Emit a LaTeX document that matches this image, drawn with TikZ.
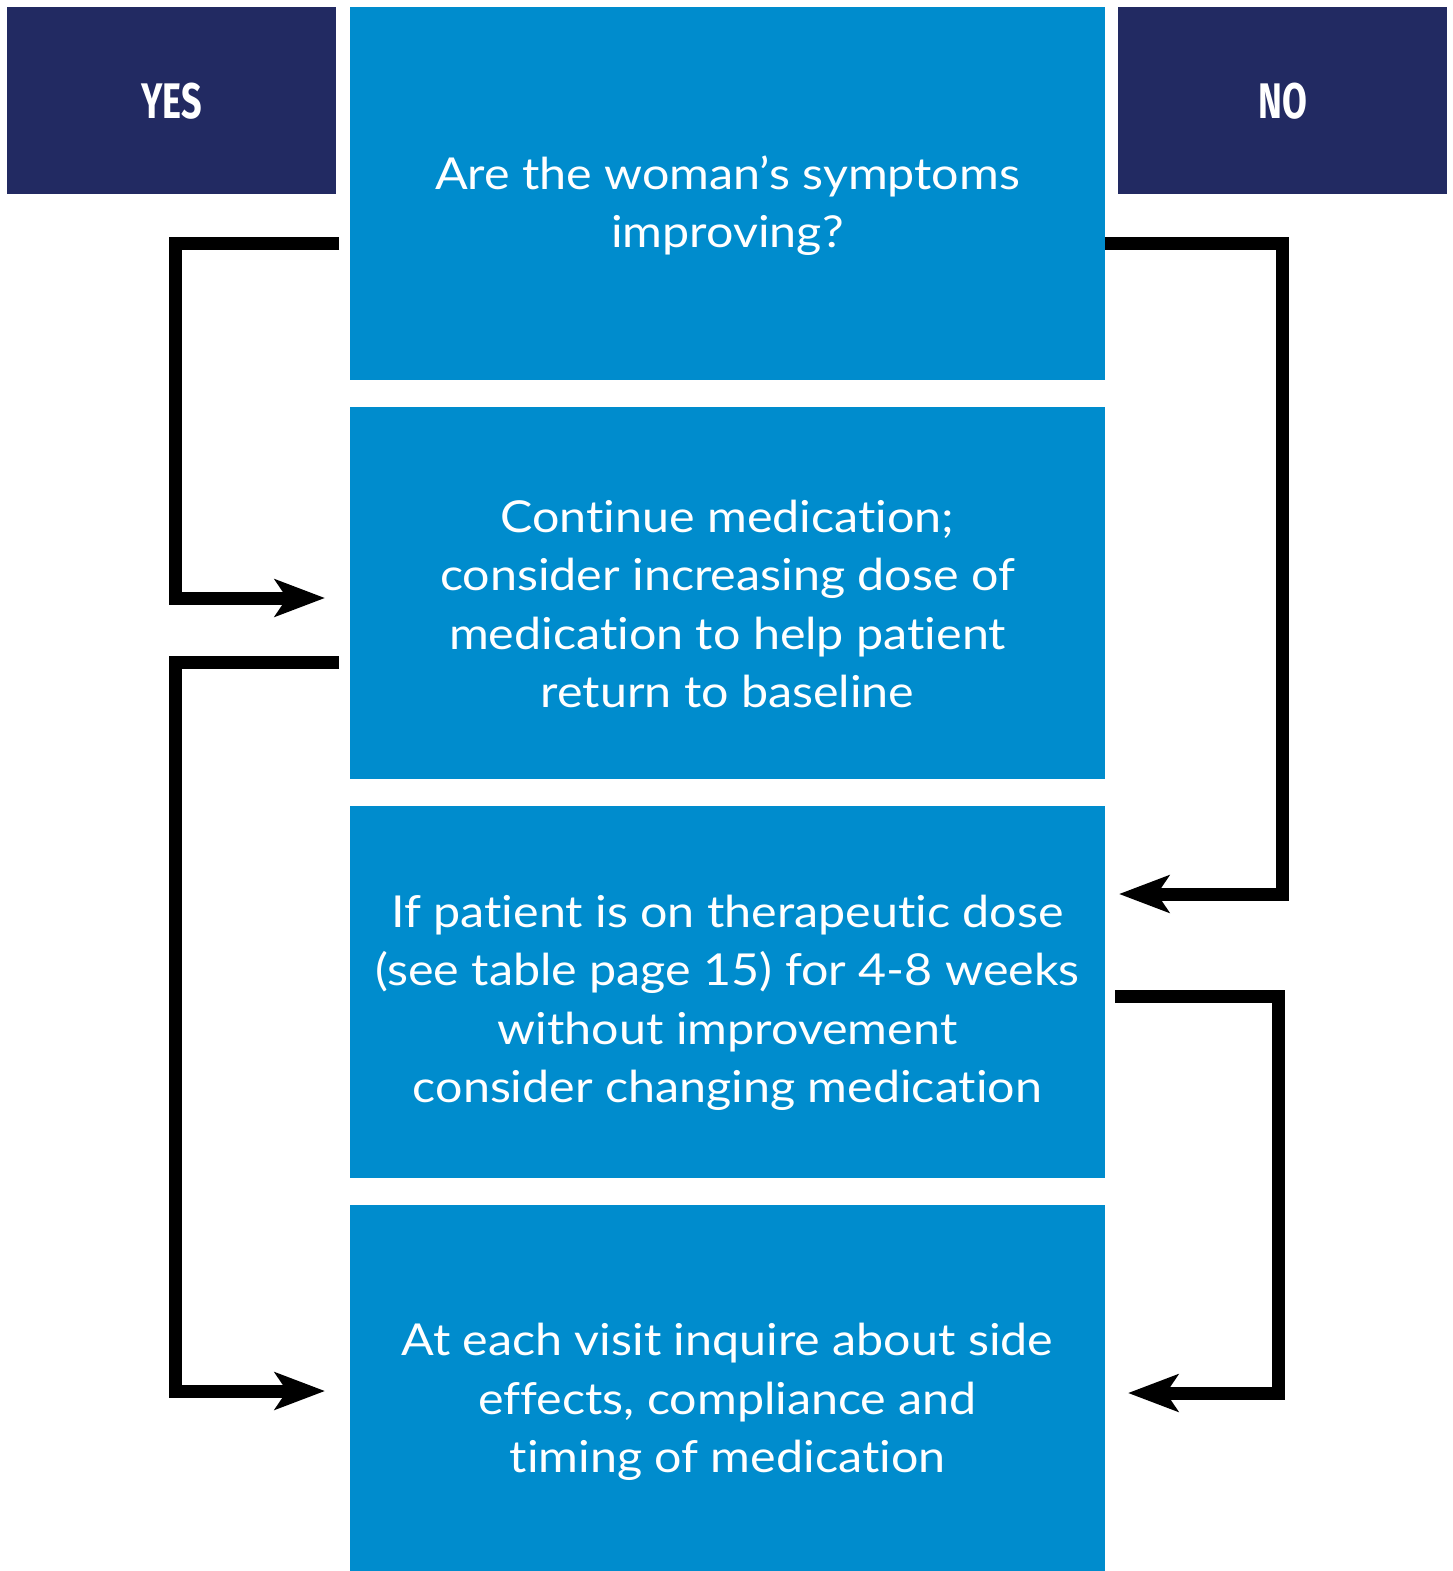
\documentclass[tikz,border=0pt]{standalone}
\usepackage{fontspec}
\setmainfont{Lato}[Ligatures=NoCommon, FakeStretch=1.1]
\newfontfamily\headfont{Fira Sans}
\usetikzlibrary{arrows.meta,positioning}
\definecolor{boxblue}{RGB}{0,140,205}
\definecolor{navy}{RGB}{34,42,98}
\tikzset{
  stepbox/.style={fill=boxblue, draw=none, anchor=north west, minimum width=755pt, inner sep=0pt, outer sep=0pt},
  headbox/.style={fill=navy, draw=none, anchor=north west, minimum width=329pt, minimum height=187pt, inner sep=0pt,
     text=white, font=\headfont\bfseries\fontsize{50}{50}\selectfont},
  txt/.style={text=white, align=center, font=\fontsize{44}{58.5}\selectfont, inner sep=0pt},
  conn/.style={draw=black, line width=13pt, line join=miter, -{Stealth[length=50pt,width=37pt,inset=12pt]}}
}
\begin{document}
\begin{tikzpicture}[x=1pt,y=-1pt]
\useasboundingbox (0,0) rectangle (1453,1571);
\node[headbox] (yes) at (7,7) {\scalebox{0.72}[1]{YES}};
\node[headbox] (no) at (1118,7) {\scalebox{0.72}[1]{NO}};
\node[stepbox, minimum height=373pt] (b1) at (350,7) {};
\node[stepbox, minimum height=372pt] (b2) at (350,407) {};
\node[stepbox, minimum height=372pt] (b3) at (350,806) {};
\node[stepbox, minimum height=366pt] (b4) at (350,1205) {};
\node[txt] (t1) at ([yshift=-12pt]b1.center) {Are the woman’s symptoms\\improving?};
\node[txt] (t2) at ([yshift=-11pt]b2.center) {Continue medication;\\consider increasing dose of\\medication to help patient\\return to baseline};
\node[txt] (t3) at ([yshift=-11pt]b3.center) {If patient is on therapeutic dose\\(see table page 15) for 4-8 weeks\\without improvement\\consider changing medication};
\node[txt] (t4) at ([yshift=-14pt]b4.center) {At each visit inquire about side\\effects, compliance and\\timing of medication};
% connector end points
\coordinate (ys1) at (339,243);
\coordinate (ye1) at (325,598);
\coordinate (ys2) at (339,662);
\coordinate (ye2) at (325,1391);
\coordinate (ns1) at (1105,243);
\coordinate (ne1) at (1119,894);
\coordinate (ns2) at (1115,996);
\coordinate (ne2) at (1128,1393);
\draw[conn] (ys1) -- (175,243) -- (175,598) -- (ye1);
\draw[conn] (ys2) -- (175,662) -- (175,1391) -- (ye2);
\draw[conn] (ns1) -- (1282,243) -- (1282,894) -- (ne1);
\draw[conn] (ns2) -- (1278,996) -- (1278,1393) -- (ne2);
\end{tikzpicture}
\end{document}
